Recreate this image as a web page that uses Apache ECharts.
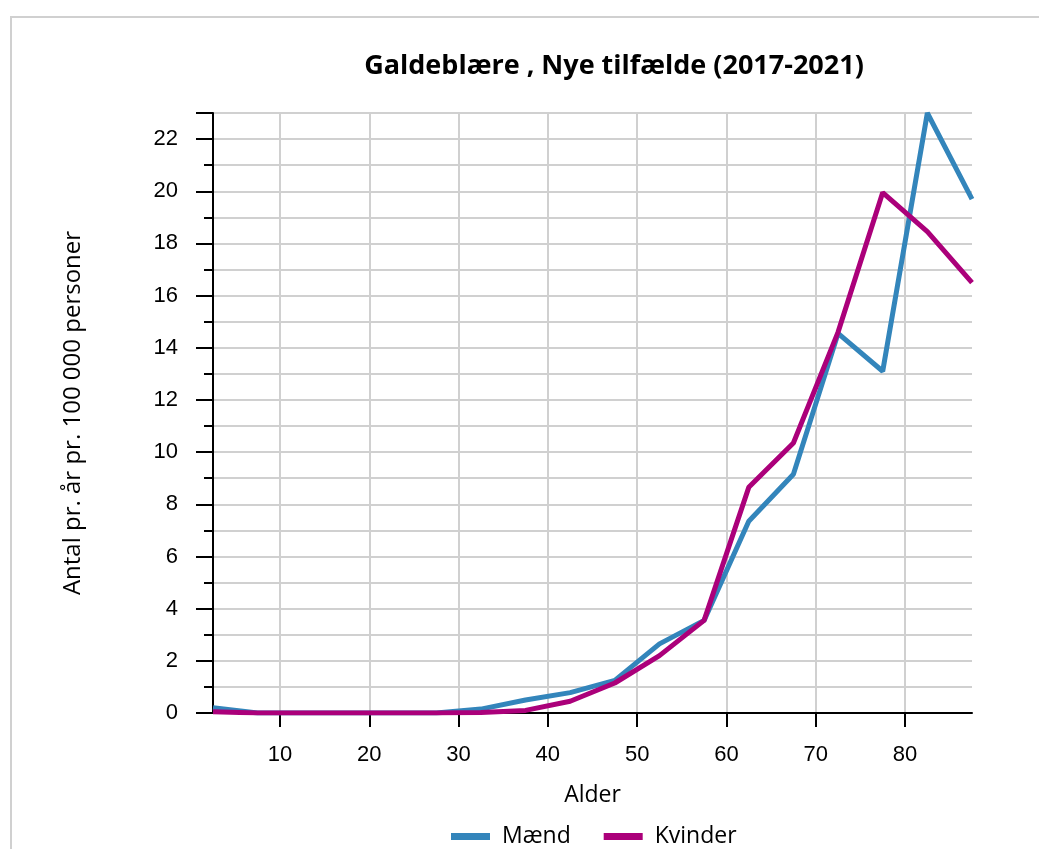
<!DOCTYPE html>
<html><head><meta charset="utf-8">
<script src="https://cdn.jsdelivr.net/npm/echarts@6/dist/echarts.min.js"></script>
<style>html,body{margin:0;padding:0;background:#fff}#c{width:1039px;height:849px}</style>
</head><body><div id="c"></div>
<script>
const ages = [2.5,7.5,12.5,17.5,22.5,27.5,32.5,37.5,42.5,47.5,52.5,57.5,62.5,67.5,72.5,77.5,82.5,87.5];
const maend = [0.2,0,0,0,0,0,0.15,0.5,0.78,1.25,2.65,3.55,7.35,9.15,14.55,13.1,23.0,19.7];
const kvinder = [0.05,0,0,0,0,0,0.02,0.1,0.45,1.15,2.2,3.55,8.65,10.35,14.6,19.95,18.45,16.5];
const xTicks = [10,20,30,40,50,60,70,80];
const seriesNames = ['Mænd','Kvinder'];
const colors = ['#3385bb','#ab007a'];

const chart = echarts.init(document.getElementById('c'));
const pair = (xs, ys) => xs.map((x, i) => [x, ys[i]]);
chart.setOption({
  animation: false,
  title: {
    text: 'Galdeblære , Nye tilfælde (2017-2021)',
    left: 609, top: 48, textAlign: 'center',
    textStyle: { fontFamily: 'Open Sans', fontWeight: 'bold', fontSize: 27, color: '#000' }
  },
  graphic: [{
    type: 'rect', shape: { x: 11, y: 17, width: 1100, height: 900 },
    style: { fill: 'none', stroke: '#d0d0d0', lineWidth: 2 }, silent: true, z: -1
  }],
  legend: {
    top: 820, left: 446, itemWidth: 39, itemHeight: 7, itemGap: 33,
    icon: 'rect',
    textStyle: { fontFamily: 'Open Sans', fontSize: 23, color: '#000', padding: [0, 0, 0, 7] },
    data: seriesNames
  },
  grid: { left: 213, right: 67, top: 113, bottom: 136, containLabel: false },
  xAxis: {
    type: 'value', min: 2.5, max: 87.5,
    name: 'Alder', nameLocation: 'middle', nameGap: 71,
    nameTextStyle: { fontFamily: 'Open Sans', fontSize: 23, color: '#000' },
    axisLine: { show: true, lineStyle: { color: '#000', width: 2 } },
    axisTick: { show: true, length: 14, lineStyle: { color: '#000', width: 2 }, customValues: xTicks },
    axisLabel: { customValues: xTicks, margin: 31, fontFamily: 'Liberation Sans', fontSize: 22, color: '#000' },
    splitLine: { show: true, lineStyle: { color: '#d0d0d0', width: 2 } }
  },
  yAxis: [{
    type: 'value', min: 0, max: 23, interval: 2, position: 'left',
    name: 'Antal pr. år pr. 100 000 personer', nameLocation: 'middle', nameGap: 128,
    nameTextStyle: { fontFamily: 'Open Sans', fontSize: 24, color: '#000' },
    axisLine: { show: true, lineStyle: { color: '#000', width: 2 } },
    axisTick: { show: true, length: 17, lineStyle: { color: '#000', width: 2 } },
    axisLabel: { margin: 35, fontFamily: 'Liberation Sans', fontSize: 22, color: '#000',
      formatter: v => (v % 2 === 0 ? String(v) : '') },
    splitLine: { show: false }
  }, {
    type: 'value', min: 0, max: 23, interval: 1, position: 'left', offset: 0,
    axisLine: { show: false },
    axisTick: { show: true, inside: false, length: 9, lineStyle: { color: '#000', width: 2 } },
    axisLabel: { show: false },
    splitLine: { show: true, lineStyle: { color: '#d0d0d0', width: 2 } }
  }],
  series: [
    { name: seriesNames[0], type: 'line', data: pair(ages, maend), showSymbol: false, symbol: 'none',
      lineStyle: { color: colors[0], width: 5 }, itemStyle: { color: colors[0] }, z: 3 },
    { name: seriesNames[1], type: 'line', data: pair(ages, kvinder), showSymbol: false, symbol: 'none',
      lineStyle: { color: colors[1], width: 5 }, itemStyle: { color: colors[1] }, z: 4 }
  ]
});
</script></body></html>
